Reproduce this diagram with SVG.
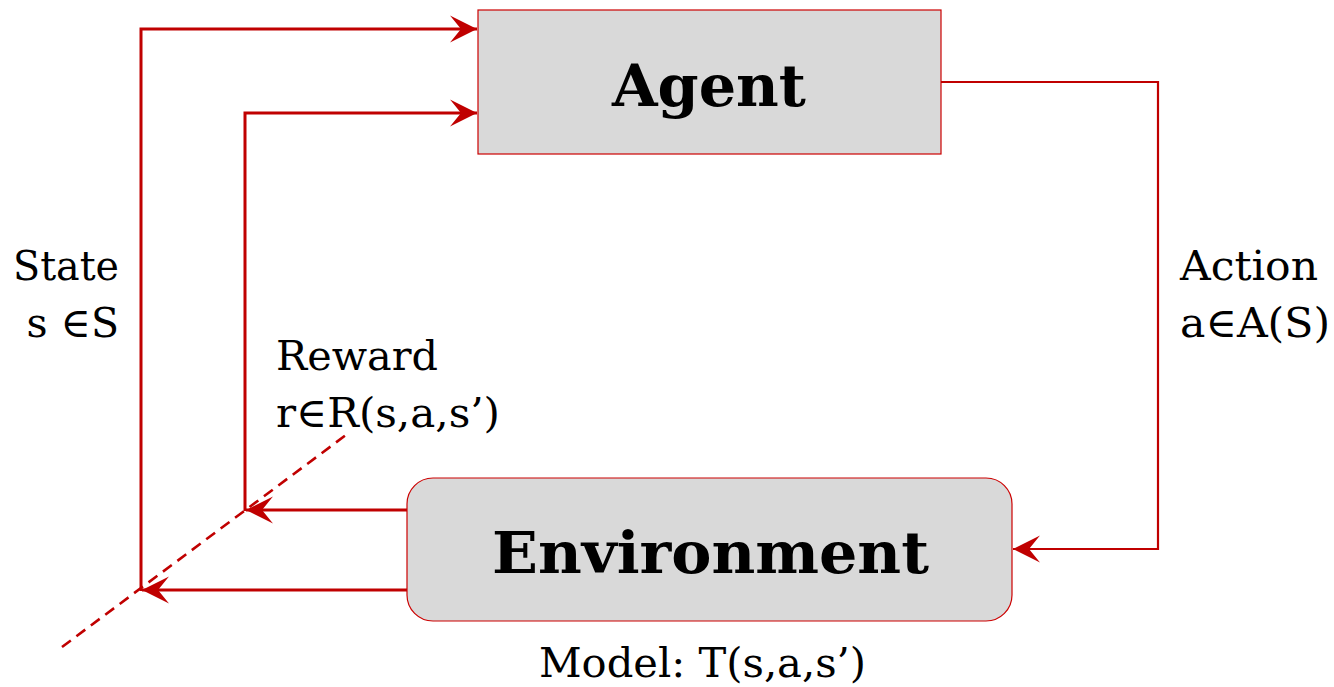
<svg xmlns="http://www.w3.org/2000/svg" width="1334" height="687" viewBox="0 0 1334 687">
  <style>
    .box { fill: #d9d9d9; stroke: #cc0000; stroke-width: 1.2; }
    .title { font-family: "DejaVu Serif", "Liberation Serif", serif; font-weight: bold; font-size: 58px; fill: #000; }
    .lbl { font-family: "DejaVu Serif", "Liberation Serif", serif; font-size: 41px; fill: #000; }
    .wire { fill: none; stroke: #c00000; stroke-width: 3; }
    .wire-thin { fill: none; stroke: #c00000; stroke-width: 2.2; }
    .dash { fill: none; stroke: #c00000; stroke-width: 2.6; stroke-dasharray: 11 7; }
  </style>
  <defs>
    <marker id="head" viewBox="0 0 28 28" refX="27" refY="14" markerWidth="28" markerHeight="28" markerUnits="userSpaceOnUse" orient="auto">
      <path d="M27,14 L0,0.5 L11,14 L0,27.5 Z" fill="#c00000"/>
    </marker>
  </defs>

  <rect width="1334" height="687" fill="#ffffff"/>

  <g id="connectors">
    <!-- state feedback: environment to agent -->
    <path class="wire" d="M407,590 L142,590" marker-end="url(#head)"/>
    <path class="wire" d="M141,591 L141,29 L477,29" marker-end="url(#head)"/>
    <!-- reward feedback -->
    <path class="wire" d="M407,510 L246,510" marker-end="url(#head)"/>
    <path class="wire" d="M245,511 L245,113 L477,113" marker-end="url(#head)"/>
    <!-- action: agent to environment -->
    <path class="wire-thin" d="M941,82 L1158,82 L1158,549 L1013,549" marker-end="url(#head)"/>
    <!-- time-step cut line -->
    <path class="dash" d="M62,647 L350,432"/>
  </g>

  <g id="agent">
    <rect class="box" x="478" y="10" width="463" height="144"/>
    <text class="title" x="612" y="106" textLength="194" lengthAdjust="spacingAndGlyphs">Agent</text>
  </g>

  <g id="environment">
    <rect class="box" x="407" y="478" width="605" height="143" rx="26" ry="26"/>
    <text class="title" x="492" y="573" textLength="437" lengthAdjust="spacingAndGlyphs">Environment</text>
  </g>

  <g id="labels">
    <text class="lbl" x="13" y="280" textLength="106" lengthAdjust="spacingAndGlyphs">State</text>
    <text class="lbl" x="119" y="337" text-anchor="end">s ∈S</text>
    <text class="lbl" x="1180" y="280" textLength="138" lengthAdjust="spacingAndGlyphs">Action</text>
    <text class="lbl" x="1180" y="337" textLength="150" lengthAdjust="spacingAndGlyphs">a∈A(S)</text>
    <text class="lbl" x="276" y="370" textLength="162" lengthAdjust="spacingAndGlyphs">Reward</text>
    <text class="lbl" x="276" y="427" textLength="224" lengthAdjust="spacingAndGlyphs">r∈R(s,a,s’)</text>
    <text class="lbl" x="539" y="677" textLength="327" lengthAdjust="spacingAndGlyphs">Model: T(s,a,s’)</text>
  </g>
</svg>
